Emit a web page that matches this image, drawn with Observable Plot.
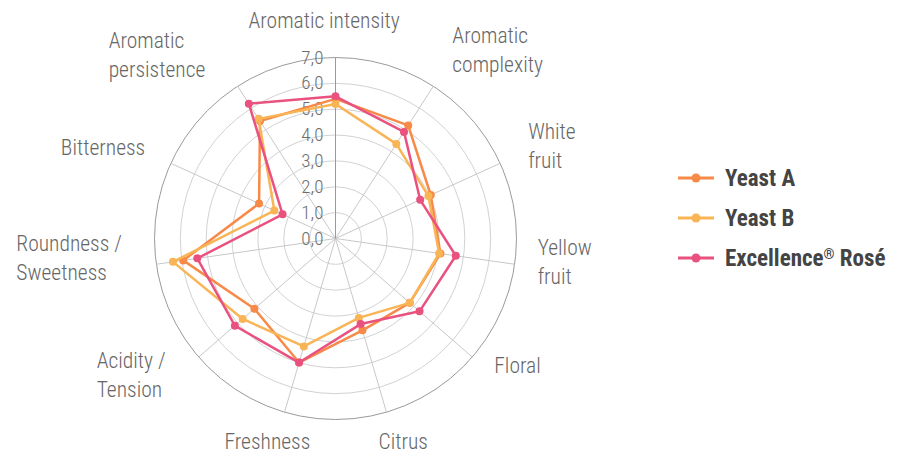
<!DOCTYPE html>
<html>
<head>
<meta charset="utf-8">
<script src="https://cdn.jsdelivr.net/npm/d3@7"></script>
<script src="https://cdn.jsdelivr.net/npm/@observablehq/plot@0.6"></script>
<style>
  html, body { margin: 0; padding: 0; background: #fff; }
  #wrap { position: relative; width: 903px; height: 454px; overflow: hidden; }
  #chart { position: absolute; left: 0; top: 0; }
  #legend { position: absolute; left: 678px; top: 158px; font-family: "Roboto Condensed", "Liberation Sans Narrow", Roboto, sans-serif; }
  .row { display: flex; align-items: center; height: 40px; white-space: nowrap; }
  .row span { font-weight: bold; font-size: 23px; color: #444; margin-left: 11px; }
  .row span sup { font-size: 14px; vertical-align: 7px; line-height: 0; }
</style>
</head>
<body>
<div id="wrap"><div id="chart"></div><div id="legend"></div></div>
<script>
const axes = ["Aromatic intensity", "Aromatic\ncomplexity", "White\nfruit", "Yellow\nfruit", "Floral", "Citrus", "Freshness", "Acidity /\nTension", "Roundness /\nSweetness", "Bitterness", "Aromatic\npersistence"];
const seriesNames = ["Yeast A", "Yeast B", "Excellence® Rosé"];
const yeastA = [5.4, 5.2, 4.05, 4.1, 3.8, 3.7, 5.0, 4.15, 5.95, 3.25, 5.4];
const yeastB = [5.2, 4.35, 3.95, 4.05, 3.8, 3.2, 4.35, 4.75, 6.35, 2.6, 5.5];
const excellence = [5.5, 4.9, 3.6, 4.7, 4.3, 3.45, 5.0, 5.15, 5.4, 2.25, 6.2];
const colors = ["#f78a48", "#f9b455", "#e9527f"];
const ticks = [0, 1, 2, 3, 4, 5, 6, 7];
const maxV = 7;
// label offsets (px) from the axis end, top-left of text box
const labelOffsets = [[-87, -50], [19, -64], [28, -45], [23, -30], [22, -5], [-8, 16], [-60, 16], [-102, -10], [-140, -34], [-110, -29], [-129, -59]];

const values = [yeastA, yeastB, excellence];
const n = axes.length;
const ang = i => i * 2 * Math.PI / n;
const px = (v, i) => v * Math.sin(ang(i));
const py = (v, i) => v * Math.cos(ang(i));

const font = '"Roboto Condensed", "Liberation Sans Narrow", Roboto, sans-serif';
const fmt = d => d3.format(".1f")(d).replace(".", ",");

const marks = [];
// rings
marks.push(Plot.dot(ticks.filter(t => t > 0 && t < maxV), {x: () => 0, y: () => 0, r: d => d, stroke: "#d2d2d2", fill: "none", strokeWidth: 1}));
marks.push(Plot.dot([maxV], {x: () => 0, y: () => 0, r: d => d, stroke: "#9a9a9a", fill: "none", strokeWidth: 1}));
// spokes
const idx = d3.range(n);
marks.push(Plot.link(idx.filter(i => i > 0), {x1: () => 0, y1: () => 0, x2: i => px(maxV, i), y2: i => py(maxV, i), stroke: "#c8c8c8", strokeWidth: 1}));
marks.push(Plot.link([0], {x1: () => 0, y1: () => 0, x2: i => px(maxV, i), y2: i => py(maxV, i), stroke: "#9a9a9a", strokeWidth: 1}));
// tick labels
marks.push(Plot.text(ticks, {x: () => 0, y: d => d, text: fmt, textAnchor: "end", dx: -12, fill: "#6e6e6e", fontSize: 19, fontWeight: 300}));
// series
values.forEach((vals, s) => {
  const data = vals.map((v, i) => ({series: seriesNames[s], i, v, x: px(v, i), y: py(v, i)}));
  marks.push(Plot.line(data, {x: "x", y: "y", stroke: colors[s], strokeWidth: 2.5, curve: "linear-closed"}));
  marks.push(Plot.dot(data, {x: "x", y: "y", fill: colors[s], r: 4}));
});
// axis labels
idx.forEach(i => {
  marks.push(Plot.text([i], {x: d => px(maxV, d), y: d => py(maxV, d), text: d => axes[d], textAnchor: "start", lineAnchor: "top", dx: labelOffsets[i][0], dy: labelOffsets[i][1], fontSize: 21.5, lineHeight: 1.35, fill: "#666", fontWeight: 300}));
});

const chart = Plot.plot({
  width: 903, height: 454,
  marginLeft: 154, marginRight: 387, marginTop: 57, marginBottom: 35,
  x: {domain: [-maxV, maxV], axis: null},
  y: {domain: [-maxV, maxV], axis: null},
  r: {type: "linear", domain: [0, maxV], range: [0, 181]},
  style: {fontFamily: font, background: "white", overflow: "visible"},
  marks
});
document.getElementById("chart").appendChild(chart);

const legend = document.getElementById("legend");
seriesNames.forEach((name, s) => {
  const row = document.createElement("div");
  row.className = "row";
  const label = name.replace("®", "<sup>®</sup>");
  row.innerHTML = `<svg width="36" height="12"><line x1="0" y1="6" x2="36" y2="6" stroke="${colors[s]}" stroke-width="3"/><circle cx="18" cy="6" r="4.5" fill="${colors[s]}"/></svg><span>${label}</span>`;
  legend.appendChild(row);
});
</script>
</body>
</html>
